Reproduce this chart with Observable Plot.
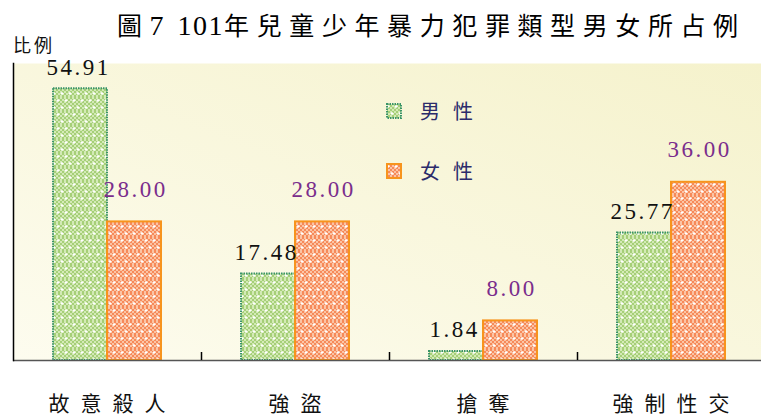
<!DOCTYPE html>
<html>
<head>
<meta charset="utf-8">
<script src="https://cdn.jsdelivr.net/npm/d3@7"></script>
<script src="https://cdn.jsdelivr.net/npm/@observablehq/plot@0.6"></script>
<style>
  body { margin: 0; background: #fff; }
  #wrap { position: relative; width: 761px; height: 417px; overflow: hidden; }
  #title { position: absolute; left: 117px; top: 10px; line-height: 28px; font-family: "Noto Sans CJK TC", sans-serif; font-size: 25px; letter-spacing: 7.6px; white-space: nowrap; color: #000; }
  #title .d { font-family: "Liberation Serif", serif; font-size: 28px; letter-spacing: 1.5px; word-spacing: 4px; }
  #ylab { position: absolute; left: 13px; top: 34px; line-height: 20px; font-family: "Noto Sans CJK TC", sans-serif; font-size: 18px; letter-spacing: 3px; color: #111; }
  #chart { position: absolute; left: 0; top: 55px; }
  .leg { position: absolute; left: 386px; display: flex; align-items: center; font-family: "Noto Sans CJK TC", sans-serif; font-size: 20px; letter-spacing: 13px; color: #2b2b6b; white-space: nowrap; }
  .leg svg { margin-right: 18px; }
</style>
</head>
<body>
<div id="wrap">
  <div id="title"></div>
  <div id="ylab"></div>
  <div id="chart"></div>
  <div class="leg" id="legM" style="top:96px"></div>
  <div class="leg" id="legF" style="top:156px"></div>
</div>
<script>
const titleText = "圖7 101年兒童少年暴力犯罪類型男女所占例";
const yLabel = "比例";
const categories = ["故意殺人", "強盜", "搶奪", "強制性交"];
const seriesNames = ["男性", "女性"];
const maleValues = [54.91, 17.48, 1.84, 25.77];
const femaleValues = [28.00, 28.00, 8.00, 36.00];
const yDomain = [0, 60];

const male = categories.map((c, i) => ({category: c, value: maleValues[i]}));
const female = categories.map((c, i) => ({category: c, value: femaleValues[i]}));

// title: ASCII runs in a serif font with tight spacing, CJK spaced
const titleEl = document.getElementById("title");
titleText.split(/([\x20-\x7e]+)/).filter(s => s.length).forEach(s => {
  const span = document.createElement("span");
  if (/^[\x20-\x7e]+$/.test(s)) span.className = "d";
  span.textContent = s;
  titleEl.appendChild(span);
});
document.getElementById("ylab").textContent = yLabel;

const numFont = "Liberation Serif, DejaVu Serif, serif";

const chart = Plot.plot({
  width: 761,
  height: 362,
  marginTop: 8,
  marginBottom: 57,
  marginLeft: 13,
  marginRight: 0,
  x: {domain: categories, range: [13, 765], padding: 0, axis: null},
  y: {domain: yDomain, axis: null},
  marks: [
    Plot.frame({fill: "url(#bgGrad)", stroke: "none"}),
    Plot.barY(male, {x: "category", y: "value", insetLeft: 40, insetRight: 94, fill: "url(#patM)", stroke: "#3a9468", strokeWidth: 2, strokeDasharray: "1.5 1"}),
    Plot.barY(female, {x: "category", y: "value", insetLeft: 94, insetRight: 40, fill: "url(#patF)", stroke: "#f7941d", strokeWidth: 2}),
    Plot.ruleY([0], {stroke: "#555", strokeWidth: 1.5}),
    Plot.frame({anchor: "left", stroke: "#000", strokeWidth: 1.5}),
    Plot.tickX(categories.slice(1), {x: d => d, dx: -94, insetTop: 289, stroke: "#000", strokeWidth: 1.5}),
    Plot.text(male, {x: "category", y: "value", text: d => d.value.toFixed(2), dx: -29, dy: -14, lineAnchor: "bottom", fill: "#111", fontSize: 23, fontFamily: numFont, ariaDescription: "vals"}),
    Plot.text(female, {x: "category", y: "value", text: d => d.value.toFixed(2), dx: 28, dy: -25, lineAnchor: "bottom", fill: "#7a2d8c", fontSize: 23, fontFamily: numFont, ariaDescription: "vals"}),
    Plot.text(categories, {x: d => d, frameAnchor: "bottom", dy: 44, dx: 5, lineAnchor: "middle", fill: "#111", fontSize: 21, fontFamily: "Noto Sans CJK TC", ariaDescription: "cats"})
  ]
});

const defs = `
<linearGradient id="bgGrad" x1="1" y1="0" x2="0" y2="1">
  <stop offset="0" stop-color="#f5f2cc"/>
  <stop offset="1" stop-color="#fdfcef"/>
</linearGradient>
<pattern id="chkM" width="4" height="4" patternUnits="userSpaceOnUse">
  <rect width="4" height="4" fill="#a6cf78"/>
  <rect width="2" height="2" fill="#d3eab6"/>
  <rect x="2" y="2" width="2" height="2" fill="#d3eab6"/>
</pattern>
<pattern id="patM" width="8" height="14" patternUnits="userSpaceOnUse">
  <rect width="8" height="14" fill="url(#chkM)"/>
  <path d="M0.5,3.5h3M2,2v3M4.5,10.5h3M6,9v3" stroke="#fff" stroke-width="1.2"/>
</pattern>
<pattern id="chkF" width="4" height="4" patternUnits="userSpaceOnUse">
  <rect width="4" height="4" fill="#f68a5a"/>
  <rect width="2" height="2" fill="#fbc4a5"/>
  <rect x="2" y="2" width="2" height="2" fill="#fbc4a5"/>
</pattern>
<pattern id="patF" width="8" height="14" patternUnits="userSpaceOnUse">
  <rect width="8" height="14" fill="url(#chkF)"/>
  <path d="M0.5,3.5h3M2,2v3M4.5,10.5h3M6,9v3" stroke="#fff" stroke-width="1.2"/>
</pattern>`;
const d = d3.select(chart).insert("defs", ":first-child");
d.html(defs);
d3.select(chart).selectAll('g[aria-description="vals"] text').style("letter-spacing", "2.5px");
d3.select(chart).selectAll('g[aria-description="cats"] text').style("letter-spacing", "11px");
document.getElementById("chart").appendChild(chart);

function swatch(fill, stroke, dash) {
  return `<svg width="16" height="16"><rect x="1" y="1" width="14" height="14" fill="${fill}" stroke="${stroke}" stroke-width="2" ${dash ? 'stroke-dasharray="1.5 1"' : ''}/></svg>`;
}
document.getElementById("legM").innerHTML = swatch("url(#patM)", "#3a9468", true) + "<span>" + seriesNames[0] + "</span>";
document.getElementById("legF").innerHTML = swatch("url(#patF)", "#f7941d", false) + "<span>" + seriesNames[1] + "</span>";
</script>
</body>
</html>
